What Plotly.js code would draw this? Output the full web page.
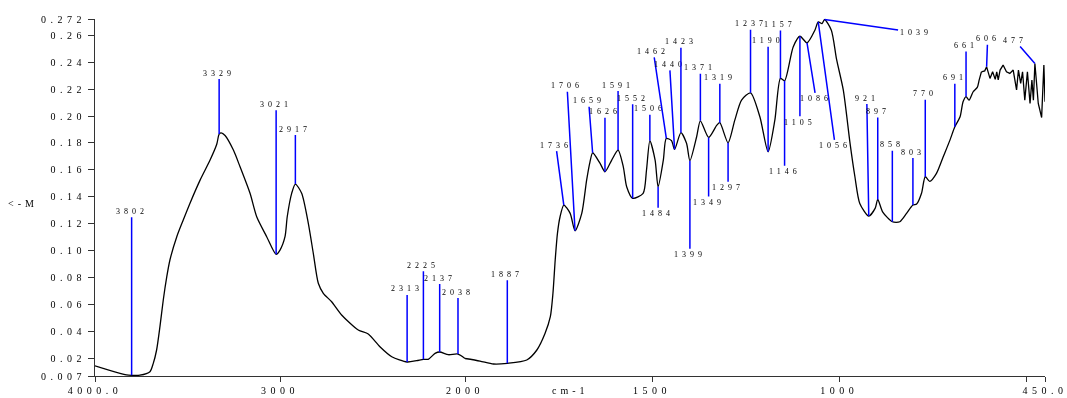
<!DOCTYPE html>
<html><head><meta charset="utf-8">
<script src="https://cdn.plot.ly/plotly-3.0.1.min.js"></script>
<style>
html,body{margin:0;padding:0;background:#fff;}
#chart{width:1067px;height:398px;will-change:transform;}
#chart text{-webkit-font-smoothing:antialiased;}
.xtick text,.x2tick text,.ytick text{letter-spacing:4.5px;}
.annotation-text{letter-spacing:4px;}
</style></head><body><div id="chart"></div>
<script>
// Spectrum (wavenumber in cm-1, K-M value)
const wavenumber = [4000,3830,3802,3757,3703,3685,3667,3649,3631,3612,3595,3558,3523,3487,3432,3378,3342,3329,3318,3297,3252,3216,3162,3126,3072,3021,3000,2973,2961,2937,2917,2883,2847,2820,2793,2766,2721,2667,2577,2523,2460,2396,2313,2261,2225,2199,2162,2137,2090,2038,2000,
1960,1924,1887,1835,1808,1786,1772,1765,1759,1753,1746,1736,1719,1706,1688,1675,1666,1659,1639,1626,1608,1591,1577,1568,1552,1524,1515,1506,1492,1484,1470,1462,1448,1440,1423,1408,1399,1381,1371,1349,1327,1319,1297,1279,1261,1237,1212,1190,1172,1157,1146,1123,1105,1086,1065,1056,1046,1039,1021,1007,989,971,958,945,921,904,897,884,858,838,820,803,793,780,770,758,740,722,704,691,677,669,661,653,642,631,626,620,611,606,597,590,583,579,575,570,562,553,544,535,526,521,515,510,504,497,490,485,481,477,468,459,453,450];
const km = [0.0146,0.0078,0.0075,0.0076,0.0102,0.0164,0.0263,0.0436,0.0634,0.0807,0.0931,0.1104,0.1228,0.1351,0.1524,0.1673,0.1790,0.1866,0.1875,0.1855,0.1747,0.1623,0.1426,0.1252,0.1104,0.0973,0.1005,0.1104,0.1252,0.1426,0.1495,0.1426,0.1203,0.0980,0.0758,0.0684,0.0621,0.0523,0.0411,0.0382,0.0287,0.0213,0.0174,0.0184,0.0194,0.0194,0.0238,0.0248,0.0228,0.0233,0.0200,
0.0181,0.0159,0.0164,0.0189,0.0263,0.0387,0.0510,0.0684,0.0931,0.1129,0.1252,0.1339,0.1277,0.1148,0.1277,0.1524,0.1660,0.1727,0.1648,0.1586,0.1673,0.1747,0.1623,0.1475,0.1389,0.1426,0.1599,0.1816,0.1673,0.1475,0.1673,0.1834,0.1816,0.1752,0.1876,0.1797,0.1668,0.1846,0.1964,0.1841,0.1932,0.1950,0.1801,0.1969,0.2118,0.2172,0.1994,0.1734,0.1969,0.2279,0.2261,0.2513,0.2592,0.2543,0.2637,0.2698,0.2686,0.2716,0.2637,0.2420,0.2192,0.1797,0.1549,0.1351,0.1257,0.1314,0.1381,0.1289,0.1215,0.1215,0.1277,0.1339,0.1346,0.1426,0.1549,0.1514,0.1574,0.1697,0.1821,0.1920,0.1994,0.2105,0.2144,0.2118,0.2180,0.2212,0.2266,0.2328,0.2335,0.2365,0.2279,0.2328,0.2272,0.2328,0.2268,0.2341,0.2378,0.2328,0.2316,0.2341,0.2194,0.2341,0.2242,0.2328,0.2118,0.2328,0.2093,0.2266,0.2118,0.2390,0.2093,0.1989,0.2378,0.2105];

// Labelled peaks (cm-1)
const peaks = [3802,3329,3021,2917,2313,2225,2137,2038,1887,1736,1706,1659,1626,1591,1552,1506,1484,1462,1440,1423,1399,1371,1349,1319,1297,1237,1190,1157,1146,1105,1086,1056,1039,921,897,858,803,770,691,661,606,477];

// Axis ticks
const xTickVals1 = [4000,3000,2000];
const xTickText1 = ['4000.0','3000','2000'];
const xTickVals2 = [1500,1000,500,450];
const xTickText2 = ['1500','1000','','450.0'];
const yTickVals = [0.007,0.02,0.04,0.06,0.08,0.10,0.12,0.14,0.16,0.18,0.20,0.22,0.24,0.26,0.272];
const yTickText = ['0.007','0.02','0.04','0.06','0.08','0.10','0.12','0.14','0.16','0.18','0.20','0.22','0.24','0.26','0.272'];

// label placement offsets in px (layout only)
const labelOffsets = [[0,-164],[0,-61],[0,-150],[0,-55],[0,-73],[0,-94],[0,-74],[0,-62],[0,-89],[-8,-60],[-8,-145],[-4,-52],[0,-60],[0,-65],[0,-100],[0,-32],[0,27],[-13,-87],[-5,-85],[0,-91],[0,94],[0,-53],[0,65],[0,-45],[0,45],[0,-69],[0,-111],[0,-54],[0,91],[0,86],[9,56],[17,124],[91,13],[-2,-118],[0,-88],[0,-77],[0,-53],[0,-83],[0,-49],[0,-51],[1,-28],[-20,-23]];

function pick(cond){
  const xs=[],ys=[];
  wavenumber.forEach((w,i)=>{ if(cond(w)){xs.push(w);ys.push(km[i]);} });
  return {xs,ys};
}
const a = pick(w=>w>=2000), b = pick(w=>w<=2000 && w>=620), c = pick(w=>w<=620);
const lineStyle = {color:'#000', width:1.3};
const traces = [
  {x:a.xs,y:a.ys,xaxis:'x',yaxis:'y',mode:'lines',line:Object.assign({shape:'spline',smoothing:0.7},lineStyle),hoverinfo:'skip'},
  {x:b.xs,y:b.ys,xaxis:'x2',yaxis:'y',mode:'lines',line:Object.assign({shape:'spline',smoothing:0.7},lineStyle),hoverinfo:'skip'},
  {x:c.xs,y:c.ys,xaxis:'x2',yaxis:'y',mode:'lines',line:Object.assign({shape:'linear'},lineStyle),hoverinfo:'skip'}
];

const labelFont = {family:'Liberation Serif', size:8, color:'#000'};
const annotations = peaks.map((p,i)=>{
  const idx = wavenumber.indexOf(p);
  return {
    x:p, y:km[idx], xref: p>=2000?'x':'x2', yref:'y',
    text:String(p), showarrow:true, arrowhead:0, arrowwidth:1.5, arrowcolor:'#0000ff',
    standoff:0, startstandoff:0, ax:labelOffsets[i][0], ay:labelOffsets[i][1],
    font:labelFont, borderpad:1
  };
});
annotations.push({xref:'paper',yref:'paper',x:0.5,y:-0.042,xanchor:'center',yanchor:'middle',showarrow:false,
  text:'cm-1',font:{family:'Liberation Serif',size:10,color:'#000'}});
annotations.push({xref:'paper',yref:'paper',x:-0.094,y:0.484,xanchor:'left',yanchor:'middle',showarrow:false,
  text:'&lt;-M',font:{family:'Liberation Serif',size:10,color:'#000'}});

const axFont = {family:'Liberation Serif', size:10, color:'#000'};
const baseX = {showline:true, linecolor:'#333', linewidth:1, ticks:'outside', ticklen:5, tickcolor:'#333',
  showgrid:false, zeroline:false, tickfont:axFont, tickmode:'array', fixedrange:true, ticklabeloverflow:'allow'};
const layout = {
  width:1067, height:398, margin:{l:95,r:22,t:19,b:22},
  paper_bgcolor:'#fff', plot_bgcolor:'#fff', showlegend:false,
  xaxis:Object.assign({}, baseX, {domain:[0,0.3895], range:[4000,2000], tickvals:xTickVals1, ticktext:xTickText1, anchor:'y'}),
  xaxis2:Object.assign({}, baseX, {domain:[0.3895,1], range:[2000,450], tickvals:xTickVals2, ticktext:xTickText2, anchor:'y'}),
  yaxis:{range:[0.007,0.272], showline:true, linecolor:'#333', linewidth:1, ticks:'outside', ticklen:6, tickcolor:'#333',
    showgrid:false, zeroline:false, tickfont:axFont, tickmode:'array', tickvals:yTickVals, ticktext:yTickText, anchor:'x', fixedrange:true},
  annotations:annotations
};
Plotly.newPlot('chart', traces, layout, {displayModeBar:false, staticPlot:true});
</script></body></html>
